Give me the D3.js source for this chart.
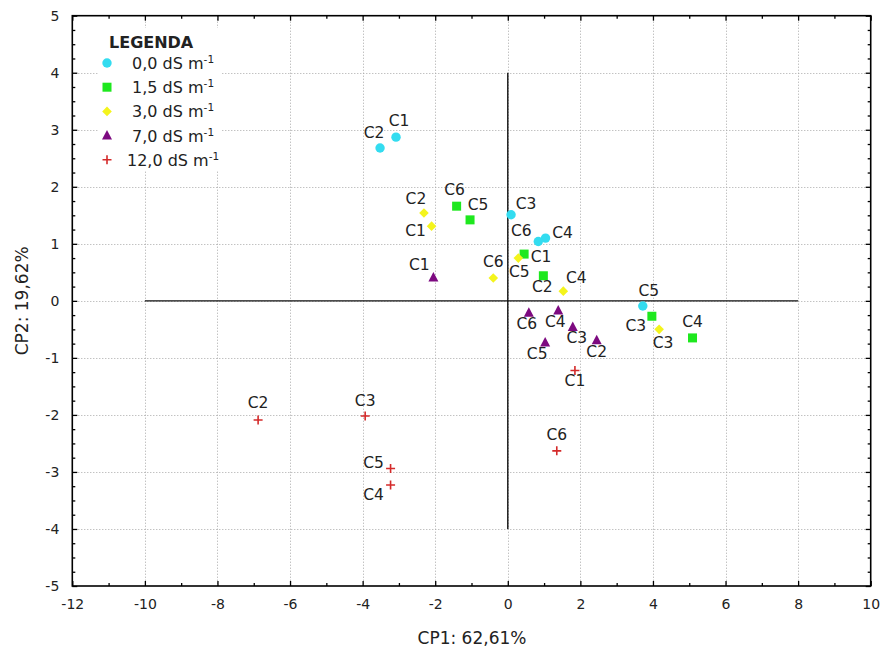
<!DOCTYPE html>
<html>
<head>
<meta charset="utf-8">
<script src="https://cdn.jsdelivr.net/npm/d3@7"></script>
<style>
  html, body { margin: 0; padding: 0; background: #fff; }
  svg { display: block; font-family: "DejaVu Sans", sans-serif; }
</style>
</head>
<body>
<svg id="chart" width="881" height="654"></svg>
<script>
// PCA scores (CP1, CP2) of the cultivars at each salinity level
const salinity = ["0,0", "1,5", "3,0", "7,0", "12,0"];

const cult_00 = ["C1", "C2", "C3", "C4", "C5", "C6"];
const cp1_00  = [-3.08, -3.52, 0.09, 1.04, 3.72, 0.84];
const cp2_00  = [ 2.87,  2.68, 1.51, 1.10, -0.09, 1.04];

const cult_15 = ["C1", "C2", "C3", "C4", "C5", "C6"];
const cp1_15  = [0.45, 0.98, 3.97, 5.09, -1.04, -1.41];
const cp2_15  = [0.82, 0.44, -0.27, -0.65, 1.42, 1.66];

const cult_30 = ["C1", "C2", "C3", "C4", "C5", "C6"];
const cp1_30  = [-2.10, -2.31, 4.17, 1.53, 0.29, -0.40];
const cp2_30  = [ 1.31,  1.54, -0.50, 0.17, 0.75, 0.40];

const cult_70 = ["C1", "C2", "C3", "C4", "C5", "C6"];
const cp1_70  = [-2.05, 2.45, 1.79, 1.39, 1.03, 0.58];
const cp2_70  = [ 0.41, -0.69, -0.46, -0.17, -0.73, -0.21];

const cult_120 = ["C1", "C2", "C3", "C4", "C5", "C6"];
const cp1_120  = [1.85, -6.88, -3.93, -3.23, -3.23, 1.35];
const cp2_120  = [-1.22, -2.09, -2.02, -3.23, -2.94, -2.63];

const xTicks = [-12, -10, -8, -6, -4, -2, 0, 2, 4, 6, 8, 10];
const yTicks = [-5, -4, -3, -2, -1, 0, 1, 2, 3, 4, 5];

// Label placement (pixel offsets of each cultivar label from its point)
const labelOffsets = [
  [[3, -11], [-6, -10], [15, -6], [17, 0], [6, -10], [-17, -6]],
  [[17, 8], [-1, 16], [-16, 15], [0, -11], [8, -10], [-2, -11]],
  [[-16, 10], [-8, -9], [4, 19], [13, -8], [1, 19], [0, -11]],
  [[-14, -7], [0, 17], [4, 16], [-3, 16], [-8, 17], [-2, 16]],
  [[0, 16], [0, -12], [0, -10], [-17, 15], [-17, -1], [0, -11]]
];

const groups = [
  { cult: cult_00,  x: cp1_00,  y: cp2_00,  shape: "circle",   color: "#33dcf0" },
  { cult: cult_15,  x: cp1_15,  y: cp2_15,  shape: "square",   color: "#1ee81e" },
  { cult: cult_30,  x: cp1_30,  y: cp2_30,  shape: "diamond",  color: "#f4f41c" },
  { cult: cult_70,  x: cp1_70,  y: cp2_70,  shape: "triangle", color: "#7d0a80" },
  { cult: cult_120, x: cp1_120, y: cp2_120, shape: "plus",     color: "#d42a2a" }
];

const svg = d3.select("#chart");
const L = 72.3, R = 870.7, T = 15.7, B = 586;

const x = d3.scaleLinear().domain([-12, 10]).range([L, R]);
const y = d3.scaleLinear().domain([-5, 5]).range([B, T]);

// dotted grid
const grid = svg.append("g").attr("stroke", "#a8a8a8").attr("stroke-width", 1)
  .attr("stroke-dasharray", "1,2");
grid.selectAll("line.gx").data(xTicks.slice(1, -1)).join("line")
  .attr("x1", d => Math.round(x(d)) + 0.5).attr("x2", d => Math.round(x(d)) + 0.5)
  .attr("y1", T).attr("y2", B);
grid.selectAll("line.gy").data(yTicks.slice(1, -1)).join("line")
  .attr("y1", d => Math.round(y(d)) + 0.5).attr("y2", d => Math.round(y(d)) + 0.5)
  .attr("x1", L).attr("x2", R);

// reference axes through the origin
svg.append("line").attr("x1", x(-10)).attr("x2", x(8))
  .attr("y1", y(0)).attr("y2", y(0)).attr("stroke", "#111").attr("stroke-width", 1.4);
svg.append("line").attr("x1", x(0)).attr("x2", x(0))
  .attr("y1", y(4)).attr("y2", y(-4)).attr("stroke", "#111").attr("stroke-width", 1.4);

// frame axes with inward ticks
const tickStyle = g => {
  g.select(".domain").remove();
  g.selectAll(".tick line").attr("stroke", "#000").attr("stroke-width", 1.3);
};
const xMinor = d3.range(-11, 10, 2);
const yMinor = d3.range(-5, 5.001, 0.25).filter(v => Math.abs(v - Math.round(v)) > 1e-6);
const fmt = d => String(d);

const axisFont = g => g.selectAll("text").attr("font-size", 14)
  .attr("font-family", "DejaVu Sans, sans-serif").attr("fill", "#222");

svg.append("g").attr("transform", `translate(0,${B})`)
  .call(d3.axisBottom(x).tickValues(xTicks).tickFormat(fmt)
    .tickSizeInner(-5).tickSizeOuter(0).tickPadding(13))
  .call(tickStyle).call(axisFont);
svg.append("g").attr("transform", `translate(0,${B})`)
  .call(d3.axisBottom(x).tickValues(xMinor).tickFormat("").tickSizeInner(-3).tickSizeOuter(0))
  .call(tickStyle);
svg.append("g").attr("transform", `translate(0,${T})`)
  .call(d3.axisTop(x).tickValues(xTicks).tickFormat("").tickSizeInner(-5).tickSizeOuter(0))
  .call(tickStyle);
svg.append("g").attr("transform", `translate(0,${T})`)
  .call(d3.axisTop(x).tickValues(xMinor).tickFormat("").tickSizeInner(-3).tickSizeOuter(0))
  .call(tickStyle);

svg.append("g").attr("transform", `translate(${L},0)`)
  .call(d3.axisLeft(y).tickValues(yTicks).tickFormat(fmt)
    .tickSizeInner(-5).tickSizeOuter(0).tickPadding(13))
  .call(tickStyle).call(axisFont);
svg.append("g").attr("transform", `translate(${L},0)`)
  .call(d3.axisLeft(y).tickValues(yMinor).tickFormat("").tickSizeInner(-3).tickSizeOuter(0))
  .call(tickStyle);
svg.append("g").attr("transform", `translate(${R},0)`)
  .call(d3.axisRight(y).tickValues(yTicks).tickFormat("").tickSizeInner(-5).tickSizeOuter(0))
  .call(tickStyle);
svg.append("g").attr("transform", `translate(${R},0)`)
  .call(d3.axisRight(y).tickValues(yMinor).tickFormat("").tickSizeInner(-3).tickSizeOuter(0))
  .call(tickStyle);

svg.append("rect").attr("x", L).attr("y", T).attr("width", R - L).attr("height", B - T)
  .attr("fill", "none").attr("stroke", "#000").attr("stroke-width", 1.6);

// axis titles
svg.append("text").attr("x", 472).attr("y", 644).attr("text-anchor", "middle")
  .attr("font-size", 17).attr("fill", "#222").text("CP1: 62,61%");
svg.append("text").attr("transform", `translate(28,${(T + B) / 2}) rotate(-90)`)
  .attr("text-anchor", "middle").attr("font-size", 17).attr("fill", "#222").text("CP2: 19,62%");

// marker symbols
function drawMarker(sel, shape, color) {
  if (shape === "circle") {
    sel.append("circle").attr("r", 4.7).attr("fill", color);
  } else if (shape === "square") {
    sel.append("rect").attr("x", -4.5).attr("y", -4.5).attr("width", 9).attr("height", 9).attr("fill", color);
  } else if (shape === "diamond") {
    sel.append("path").attr("d", "M0,-4.8L4.8,0L0,4.8L-4.8,0Z").attr("fill", color);
  } else if (shape === "triangle") {
    sel.append("path").attr("d", "M0,-5.5L5,4L-5,4Z").attr("fill", color);
  } else if (shape === "plus") {
    sel.append("path").attr("d", "M-4.5,0H4.5M0,-4.5V4.5").attr("stroke", color)
      .attr("stroke-width", 1.6).attr("fill", "none");
  }
}

// points and cultivar labels
groups.forEach((g, gi) => {
  const layer = svg.append("g");
  g.cult.forEach((c, i) => {
    const m = layer.append("g").attr("transform", `translate(${x(g.x[i])},${y(g.y[i])})`);
    drawMarker(m, g.shape, g.color);
  });
  g.cult.forEach((c, i) => {
    const off = labelOffsets[gi][i];
    layer.append("text")
      .attr("x", x(g.x[i]) + off[0]).attr("y", y(g.y[i]) + off[1])
      .attr("text-anchor", "middle").attr("font-size", 15.5).attr("fill", "#222")
      .text(c);
  });
});

// legend
const lg = svg.append("g");
lg.append("rect").attr("x", 98).attr("y", 28).attr("width", 124).attr("height", 142).attr("fill", "#fff");
lg.append("text").attr("x", 109).attr("y", 47.5).attr("font-size", 16)
  .attr("font-weight", "bold").attr("fill", "#222").text("LEGENDA");
salinity.forEach((s, i) => {
  const cy = 63 + i * 24.2;
  const m = lg.append("g").attr("transform", `translate(107,${cy})`);
  drawMarker(m, groups[i].shape, groups[i].color);
  const pad = s.length < 4 ? "\u00A0" : "";
  const t = lg.append("text").attr("x", 127).attr("y", cy + 6)
    .attr("font-size", 16).attr("fill", "#222").text(pad + s + " dS m");
  t.append("tspan").attr("dy", -6).attr("font-size", 10.5).text("-1");
});
</script>
</body>
</html>
